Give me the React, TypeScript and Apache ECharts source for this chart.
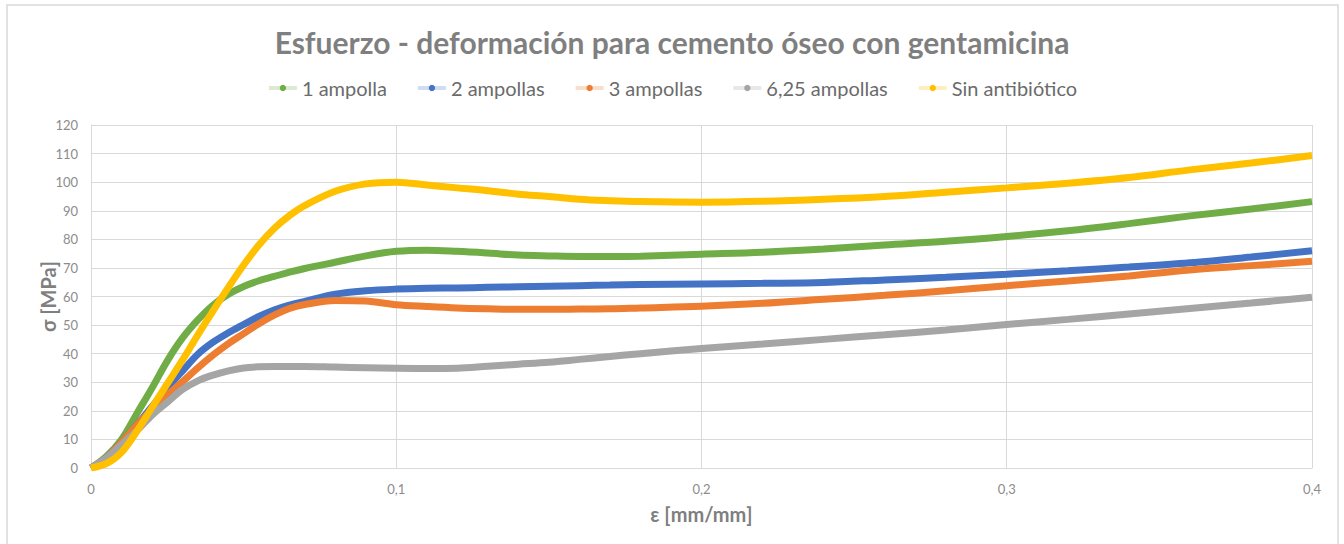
import React, { useEffect, useRef } from "react";
import * as echarts from "echarts";

const strain = [0, 0.005, 0.01, 0.015, 0.02, 0.025, 0.03, 0.035, 0.04, 0.045, 0.05, 0.055, 0.06, 0.065, 0.07, 0.08, 0.09, 0.1, 0.11, 0.12, 0.13, 0.14, 0.15, 0.16, 0.17, 0.18, 0.2, 0.22, 0.24, 0.26, 0.28, 0.3, 0.32, 0.34, 0.36, 0.38, 0.4];

const amp1 = [0, 4, 10, 19, 28, 37.5, 45.5, 51.8, 57, 60.8, 63.5, 65.5, 67, 68.5, 69.8, 72, 74.2, 75.8, 76.2, 75.8, 75.2, 74.5, 74.2, 74, 74, 74.1, 74.8, 75.5, 76.6, 78, 79.3, 81, 83, 85.5, 88.2, 90.6, 93.2];
const amp2 = [0, 3.5, 9, 15, 21.5, 28, 34, 39.8, 44, 47.3, 50.2, 53, 55.3, 57, 58.3, 60.8, 62, 62.6, 62.9, 63, 63.2, 63.4, 63.6, 63.8, 64, 64.2, 64.4, 64.6, 64.9, 65.8, 66.7, 67.8, 69, 70.3, 71.8, 73.8, 76];
const amp3 = [0, 3.5, 9, 15, 20.5, 25.5, 30.2, 35, 39.5, 43.5, 47, 50.5, 53.5, 55.8, 57.2, 58.6, 58.4, 57.1, 56.5, 56, 55.7, 55.5, 55.5, 55.6, 55.7, 56, 56.6, 57.6, 59, 60.4, 62, 63.8, 65.4, 67.2, 69.3, 70.8, 72.3];
const amp625 = [0, 3.5, 8.2, 13, 18.5, 23, 27.5, 30.5, 32.5, 34, 35, 35.4, 35.5, 35.5, 35.5, 35.3, 35.1, 34.9, 34.8, 34.9, 35.6, 36.3, 37, 38, 39, 40, 41.8, 43.4, 45, 46.6, 48.3, 50.2, 52, 53.9, 55.8, 57.7, 59.7];
const sinAnt = [0, 1.5, 5.5, 12.8, 21.2, 29.5, 37.8, 46.6, 55, 63.2, 71, 78, 83.8, 88.3, 91.8, 96.8, 99.4, 100, 99, 98, 97, 95.8, 95, 94, 93.5, 93.2, 93, 93.3, 94, 95, 96.5, 98, 99.6, 101.6, 104.3, 106.7, 109.3];

const seriesNames = ["1 ampolla", "2 ampollas", "3 ampollas", "6,25 ampollas", "Sin antibiótico"];
const seriesValues = [amp1, amp2, amp3, amp625, sinAnt];
const seriesColors = ["#70ad47", "#4472c4", "#ed7d31", "#a5a5a5", "#ffc000"];

const FONT = "Lato, 'Open Sans', sans-serif";

export default function App() {
  const ref = useRef<HTMLDivElement>(null);
  useEffect(() => {
    if (!ref.current) return;
    const chart = echarts.init(ref.current, undefined, { renderer: "svg" });
    chart.setOption({
      animation: false,
      backgroundColor: "#ffffff",
      textStyle: { fontFamily: FONT },
      title: {
        text: "Esfuerzo - deformación para cemento óseo con gentamicina",
        left: "center",
        top: 22,
        textStyle: { fontFamily: FONT, fontSize: 30, fontWeight: "bold", color: "#7f7f7f" },
      },
      legend: {
        top: 73,
        left: "center",
        itemGap: 29,
        itemWidth: 28,
        itemHeight: 8,
        lineStyle: { width: 4, opacity: 0.25 },
        textStyle: { fontFamily: FONT, fontSize: 20, color: "#6b6b6b" },
        data: seriesNames,
      },
      graphic: [
        {
          type: "rect",
          shape: { x: 7, y: 5, width: 1331, height: 560 },
          style: { fill: "none", stroke: "#d9d9d9", lineWidth: 1.5 },
          silent: true,
        },
      ],
      grid: { left: 91, right: 32, top: 125, bottom: 76, containLabel: false, show: false },
      xAxis: {
        type: "value",
        min: 0,
        max: 0.4,
        interval: 0.1,
        name: "ε [mm/mm]",
        nameLocation: "middle",
        nameGap: 36,
        nameMoveOverlap: false,
        nameTextStyle: { fontFamily: FONT, fontSize: 20, fontWeight: "bold", color: "#7f7f7f" },
        axisLine: { show: true, lineStyle: { color: "#d9d9d9", width: 1 } },
        axisTick: { show: false },
        axisLabel: {
          fontFamily: FONT,
          fontSize: 13,
          color: "#8c8c8c",
          margin: 14,
          formatter: (v: number) => String(Math.round(v * 10) / 10).replace(".", ","),
        },
        splitLine: { show: true, lineStyle: { color: "#d9d9d9", width: 1 } },
      },
      yAxis: {
        type: "value",
        min: 0,
        max: 120,
        interval: 10,
        name: "σ [MPa]",
        nameLocation: "middle",
        nameGap: 33,
        nameMoveOverlap: false,
        nameRotate: 90,
        nameTextStyle: { fontFamily: FONT, fontSize: 20, fontWeight: "bold", color: "#7f7f7f" },
        axisLine: { show: true, lineStyle: { color: "#d9d9d9", width: 1 } },
        axisTick: { show: false },
        axisLabel: { fontFamily: FONT, fontSize: 13, color: "#8c8c8c", margin: 13 },
        splitLine: { show: true, lineStyle: { color: "#d9d9d9", width: 1 } },
      },
      series: seriesNames.map((name, i) => ({
        name,
        type: "line",
        data: strain.map((x, k) => [x, seriesValues[i][k]]),
        smooth: 0.35,
        symbol: "circle",
        symbolSize: 8,
        showSymbol: false,
        color: seriesColors[i],
        lineStyle: { width: 7, color: seriesColors[i] },
        itemStyle: { color: seriesColors[i] },
        z: 2 + i,
      })),
    });
    return () => chart.dispose();
  }, []);
  return (
    <div style={{ position: "fixed", left: 0, top: 0, width: 1344, height: 544 }}>
      <div ref={ref} style={{ width: 1344, height: 544 }} />
    </div>
  );
}
